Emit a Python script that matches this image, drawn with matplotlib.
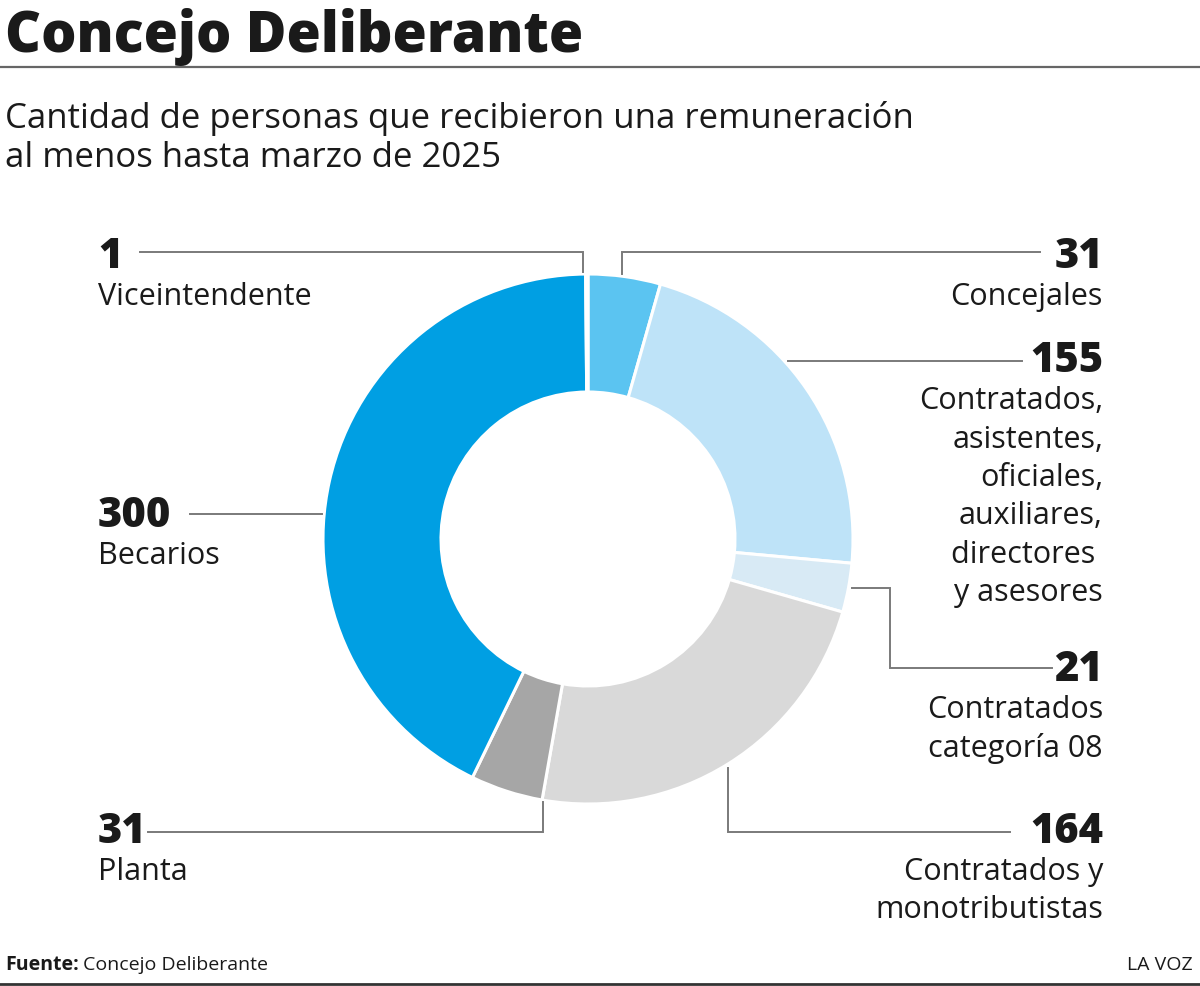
import matplotlib
matplotlib.use("Agg")
import matplotlib.pyplot as plt

plt.rcParams['font.family'] = ['Open Sans', 'DejaVu Sans']

# data
categories = ["Concejales", "Contratados, asistentes, oficiales, auxiliares, directores y asesores",
              "Contratados categoría 08", "Contratados y monotributistas",
              "Planta", "Becarios", "Viceintendente"]
values = [31, 155, 21, 164, 31, 300, 1]
colors = ["#5bc4f1", "#bee3f8", "#d8eaf5", "#d9d9d9", "#a6a6a6", "#009fe3", "#1b7cc4"]

W, H = 1200, 986
TXT = "#1a1a1a"
LINE = "#7a7a7a"

fig = plt.figure(figsize=(W / 100, H / 100), dpi=100)
ax = fig.add_axes([0, 0, 1, 1])


def py(y):
    # pixel row (top origin) -> data y
    return H - y


ax.pie(values, colors=colors, startangle=90, counterclock=False,
       center=(588, py(539)), radius=265,
       wedgeprops=dict(width=118, edgecolor="white", linewidth=2.2))
ax.set_xlim(0, W)
ax.set_ylim(0, H)
ax.set_aspect("auto")
ax.axis("off")

# header
ax.text(5, py(52), "Concejo Deliberante", fontsize=40, fontweight="heavy",
        color=TXT, va="baseline", ha="left")
ax.plot([0, W], [py(67), py(67)], color="#666666", lw=1.6)
ax.text(5, py(128), "Cantidad de personas que recibieron una remuneración",
        fontsize=25, color=TXT, va="baseline")
ax.text(5, py(167), "al menos hasta marzo de 2025", fontsize=25, color=TXT, va="baseline")

# leader lines
leaders = [
    [(140, 252), (583, 252), (583, 272)],
    [(1040, 252), (622, 252), (622, 274)],
    [(788, 361), (1022, 361)],
    [(190, 514), (322, 514)],
    [(852, 588), (890, 588), (890, 668), (1052, 668)],
    [(728, 768), (728, 832), (1010, 832)],
    [(543, 802), (543, 832), (148, 832)],
]
for pts in leaders:
    ax.plot([p[0] for p in pts], [py(p[1]) for p in pts], color=LINE, lw=1.4,
            solid_joinstyle="miter")

NUM = 30
LAB = 22


def label(x, y_num, num, lines, ha, step=38):
    ax.text(x, py(y_num), num, fontsize=NUM, fontweight="heavy", color=TXT,
            ha=ha, va="baseline")
    for i, ln in enumerate(lines):
        ax.text(x, py(y_num + step * (i + 1) - (step - 37)), ln, fontsize=LAB,
                color=TXT, ha=ha, va="baseline")


label(98, 268, str(values[6]), ["Viceintendente"], "left")
label(1103, 268, str(values[0]), ["Concejales"], "right")
label(1103, 372, str(values[1]),
      ["Contratados,", "asistentes,", "oficiales,", "auxiliares,", "directores ", "y asesores"],
      "right", step=38.5)
label(98, 527, str(values[5]), ["Becarios"], "left", step=45)
label(1103, 681, str(values[2]), ["Contratados", "categoría 08"], "right", step=39)
label(98, 843, str(values[4]), ["Planta"], "left")
label(1103, 843, str(values[3]), ["Contratados y", "monotributistas"], "right", step=38)

# footer
t = ax.text(5, py(970), "Fuente:", fontsize=14, fontweight="bold", color=TXT, va="baseline")
fig.canvas.draw()
bb = t.get_window_extent()
ax.text(bb.x1 + 4, py(970), "Concejo Deliberante", fontsize=14, color=TXT, va="baseline")
ax.text(1193, py(970), "LA VOZ", fontsize=14, color=TXT, ha="right", va="baseline")
ax.plot([0, W], [py(984), py(984)], color="#333333", lw=2)

fig.savefig("out.png", dpi=100)
